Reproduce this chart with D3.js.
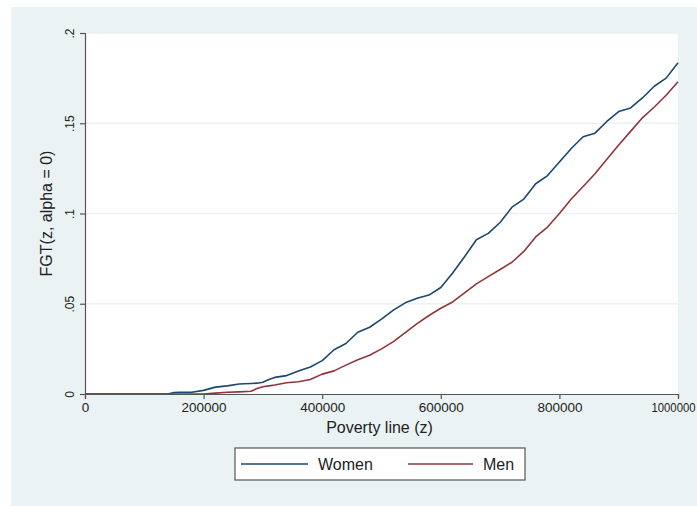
<!DOCTYPE html>
<html>
<head>
<meta charset="utf-8">
<script src="https://cdn.jsdelivr.net/npm/d3@7"></script>
<style>
html,body{margin:0;padding:0;background:#fff;}
svg{display:block;}
text{font-family:"Liberation Sans",Arial,sans-serif;fill:#222;}
</style>
</head>
<body>
<script>
// Poverty line z (thousands) and FGT(z, alpha=0) headcount values
const povertyLine = [0,20,40,60,80,100,120,140,150,160,180,200,220,240,260,280,290,300,310,320,340,360,380,400,420,440,460,480,500,520,540,560,580,600,620,640,660,680,700,720,740,760,780,800,820,840,860,880,900,920,940,960,980,1000];
const women = [0,0,0,0,0,0,0,0,0.0008,0.001,0.001,0.002,0.0038,0.0045,0.0055,0.0058,0.006,0.0065,0.008,0.0092,0.0102,0.0128,0.015,0.0185,0.0245,0.028,0.0342,0.037,0.0415,0.0465,0.0505,0.053,0.0548,0.059,0.067,0.076,0.0855,0.089,0.095,0.1035,0.108,0.1165,0.121,0.1285,0.136,0.1425,0.1445,0.151,0.1565,0.1585,0.164,0.1705,0.175,0.1835];
const men = [0,0,0,0,0,0,0,0,0,0,0,0,0.0005,0.001,0.0012,0.0015,0.003,0.004,0.0045,0.005,0.0062,0.0068,0.008,0.011,0.0128,0.016,0.019,0.0215,0.025,0.029,0.034,0.039,0.0435,0.0475,0.051,0.056,0.061,0.065,0.069,0.073,0.079,0.087,0.0925,0.1,0.108,0.115,0.122,0.13,0.138,0.1455,0.153,0.159,0.1655,0.173];
const xTicks = [0,200000,400000,600000,800000,1000000];
const xTickLabels = ["0","200000","400000","600000","800000","1000000"];
const yTicks = [0,0.05,0.1,0.15,0.2];
const yTickLabels = ["0",".05",".1",".15",".2"];
const seriesNames = ["Women","Men"];
const seriesColors = ["#1a476f","#90353b"];

const W = 697, H = 506;
const svg = d3.select("body").append("svg").attr("width", W).attr("height", H);

// outer background
svg.append("rect").attr("x", 11).attr("y", 7).attr("width", W - 11).attr("height", H - 7).attr("fill", "#eaf2f3");

const pL = 85, pR = 678, pT = 33, pB = 394;
const x = d3.scaleLinear().domain([0, 1000000]).range([pL, pR]);
const y = d3.scaleLinear().domain([0, 0.2]).range([pB, pT]);

// plot area
svg.append("rect").attr("x", pL).attr("y", pT).attr("width", pR - pL).attr("height", pB - pT).attr("fill", "#fff");

// gridlines
svg.append("g").selectAll("line").data(yTicks.filter(d => d > 0)).join("line")
  .attr("x1", pL).attr("x2", pR).attr("y1", d => y(d)).attr("y2", d => y(d))
  .attr("stroke", "#eaf2f3").attr("stroke-width", 1.5);

// lines
const series = [women, men];
const line = d3.line().x((d, i) => x(povertyLine[i] * 1000)).y(d => y(d));
series.forEach((s, k) => {
  svg.append("path").datum(s).attr("d", line).attr("fill", "none")
    .attr("stroke", seriesColors[k]).attr("stroke-width", 1.6).attr("stroke-linejoin", "round");
});

// x axis
const xAxis = d3.axisBottom(x).tickValues(xTicks).tickFormat((d, i) => xTickLabels[i]).tickSizeOuter(0).tickSize(5).tickPadding(4);
const gx = svg.append("g").attr("transform", `translate(0,${pB})`).call(xAxis);
gx.select(".domain").attr("stroke", "#555").attr("stroke-width", 1.2);
gx.selectAll(".tick line").attr("stroke", "#555").attr("stroke-width", 1.2);
const last = xTickLabels.length - 1;
gx.selectAll(".tick text").attr("font-size", 12).attr("fill", "#222")
  .attr("textLength", (d, i) => i === last ? 44 : xTickLabels[i].length * 7.5)
  .attr("lengthAdjust", "spacingAndGlyphs")
  .attr("text-anchor", (d, i) => i === last ? "end" : "middle")
  .attr("x", (d, i) => i === last ? (W - 2) - x(d) : 0);

// y axis
const yAxis = d3.axisLeft(y).tickValues(yTicks).tickFormat((d, i) => yTickLabels[i]).tickSizeOuter(0).tickSize(5).tickPadding(4);
const gy = svg.append("g").attr("transform", `translate(${pL},0)`).call(yAxis);
gy.select(".domain").attr("stroke", "#555").attr("stroke-width", 1.2);
gy.selectAll(".tick line").attr("stroke", "#555").attr("stroke-width", 1.2);
gy.selectAll(".tick text").attr("font-size", 12).attr("fill", "#222")
  .attr("text-anchor", "middle").attr("x", null).attr("dy", null)
  .attr("transform", "translate(-15,0) rotate(-90)").attr("y", 0).attr("dominant-baseline", "central");

// axis titles
svg.append("text").attr("x", (pL + pR) / 2 - 2).attr("y", 433).attr("text-anchor", "middle")
  .attr("font-size", 16).text("Poverty line (z)");
svg.append("text").attr("transform", `translate(52,${(pT + pB) / 2}) rotate(-90)`).attr("text-anchor", "middle")
  .attr("font-size", 16).text("FGT(z, alpha = 0)");

// legend
const lg = svg.append("g");
lg.append("rect").attr("x", 235).attr("y", 448).attr("width", 290).attr("height", 32)
  .attr("fill", "#fff").attr("stroke", "#555").attr("stroke-width", 1.2);
const legendX = [[241, 308, 318], [408, 473, 483]];
seriesNames.forEach((n, k) => {
  lg.append("line").attr("x1", legendX[k][0]).attr("x2", legendX[k][1]).attr("y1", 464).attr("y2", 464)
    .attr("stroke", seriesColors[k]).attr("stroke-width", 1.6);
  lg.append("text").attr("x", legendX[k][2]).attr("y", 470).attr("font-size", 16).text(n);
});
</script>
</body>
</html>
